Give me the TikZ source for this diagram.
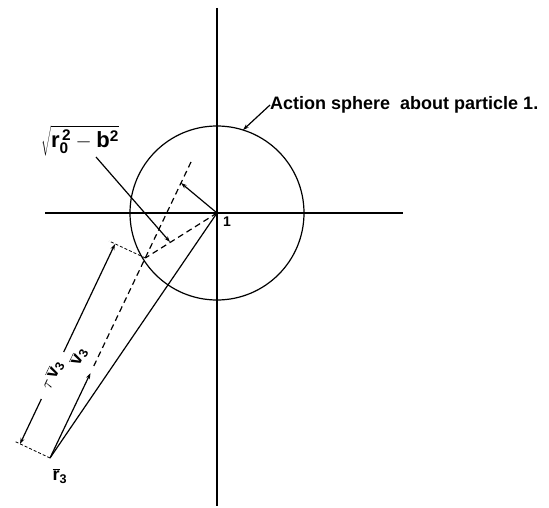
\documentclass[tikz,border=0pt]{standalone}
\usepackage{fontspec}
\setmainfont{Liberation Sans}
\usetikzlibrary{arrows.meta,calc}
\begin{document}
\begin{tikzpicture}[x=1pt,y=-1pt,
  axis/.style={line width=1.5pt},
  ln/.style={line width=1.2pt},
  dsh/.style={line width=1.2pt, dash pattern=on 6pt off 4pt},
  ext/.style={line width=0.8pt, dash pattern=on 3pt off 2pt},
  arr/.style={ln, -{Stealth[length=6pt,width=4pt]}},
  lbl/.style={font=\fontsize{18}{20}\selectfont\bfseries, inner sep=0pt}]
\useasboundingbox (0,0) rectangle (549,508);
% points
\coordinate (O) at (217,213);
\coordinate (Xl) at (45,213); \coordinate (Xr) at (403,213);
\coordinate (Yt) at (217,8); \coordinate (Yb) at (217,506);
\coordinate (R3) at (50,458);
\coordinate (V3) at (90.5,373);
\coordinate (Dlo) at (93.8,366);
\coordinate (Dhi) at (191,162);
\coordinate (E) at (145.3,258);
\coordinate (B) at (181,183);
\coordinate (C1) at (243,130);
\coordinate (S1) at (96,157);
\coordinate (S2) at (170,242);
\coordinate (X1) at (14,441);
\coordinate (X2) at (109,241);
\coordinate (D1) at (20,444);
\coordinate (D2) at (115,244);
\coordinate (G1) at ($(D1)!0.225!(D2)$);
\coordinate (G2) at ($(D1)!0.46!(D2)$);
% axes and sphere
\draw[axis] (Xl) -- (Xr);
\draw[axis] (Yt) -- (Yb);
\draw[ln] (O) circle[radius=87];
% trajectory
\draw[ln] (R3) -- (O);
\draw[arr] (R3) -- (V3);
\draw[dsh] (Dlo) -- (Dhi);
\draw[dsh] (O) -- (E);
\draw[arr] (O) -- (B);
% dimension tau v3
\draw[ext] (R3) -- (X1);
\draw[ext] (E) -- (X2);
\draw[ln, {Stealth[length=6pt,width=4pt]}-] (D1) -- (G1);
\draw[ln, -{Stealth[length=6pt,width=4pt]}] (G2) -- (D2);
% labels
\node[lbl, anchor=west] (act) at (270,105) {Action sphere\ \ about particle 1.};
\draw[arr] (act.west) -- (C1);
\node[lbl, font=\fontsize{22}{24}\selectfont] (sq) at (80,141) {$\sqrt{\mathbf{r}_{\mathbf{0}}^{\,\mathbf{2}}-\mathbf{b}^{\mathbf{2}}}$};
\draw[arr] (S1) -- (S2);
\node[lbl, font=\fontsize{14}{16}\selectfont\bfseries] (one) at (227,222) {1};
\node[lbl] (r3) at (60,476) {$\overline{\mathbf{r}}_{\mathbf{3}}$};
\node[lbl, rotate=64.5] (v3) at (79,357) {$\overline{\mathbf{v}}_{\mathbf{3}}$};
\node[lbl, rotate=64.5] (tv) at ($(D1)!0.343!(D2)$) {$\tau\,\overline{\mathbf{v}}_{\mathbf{3}}$};
\end{tikzpicture}
\end{document}
